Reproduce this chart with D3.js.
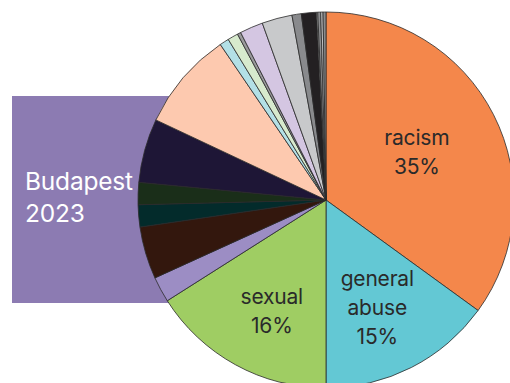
<!DOCTYPE html>
<html>
<head>
<meta charset="utf-8">
<script src="https://cdn.jsdelivr.net/npm/d3@7"></script>
<style>
  html, body { margin: 0; padding: 0; background: #fff; }
  svg { display: block; }
</style>
</head>
<body>
<svg id="chart" width="510" height="383"></svg>
<script>
// Share of reported cases by category (percent), clockwise from 12 o'clock
const categories = [
  "racism", "general abuse", "sexual", "other 1", "other 2", "other 3", "other 4",
  "other 5", "other 6", "other 7", "other 8", "other 9", "other 10", "other 11",
  "other 12", "other 13", "other 14", "other 15", "other 16", "other 17"
];
const values = [
  35, 15, 16, 2.2, 4.5, 1.9, 1.9,
  5.5, 8.5, 0.8, 0.9, 0.3, 2.0, 2.6,
  0.8, 1.3, 0.1, 0.25, 0.2, 0.25
];
const colors = [
  "#f4874b", "#63c8d4", "#9fcd63", "#9c8dc4", "#33170d", "#032b2b", "#1a2e19",
  "#1e1636", "#fdc9af", "#b3e0e6", "#d7eacd", "#9a9a9c", "#d4c6e2", "#c8c9cb",
  "#898a8d", "#232022", "#efefef", "#8d8e90", "#c0c1c3", "#8a8b8d"
];
// Labelled slices: text lines per category
const labelLines = {
  "racism": ["racism", "35%"],
  "general abuse": ["general", "abuse", "15%"],
  "sexual": ["sexual", "16%"]
};
const titleLines = ["Budapest", "2023"];

const svg = d3.select("#chart");
const cx = 326, cy = 200, R = 188;

// Title panel sitting behind the pie
const panel = svg.append("g");
panel.append("rect")
  .attr("x", 12).attr("y", 96)
  .attr("width", cx - 12).attr("height", 207)
  .attr("fill", "#8c7bb2");
panel.append("text")
  .attr("x", 25).attr("y", 190)
  .attr("fill", "#ffffff")
  .attr("font-family", "Inter, 'Noto Sans', sans-serif")
  .attr("font-size", 24.5)
  .attr("letter-spacing", "-0.2")
  .selectAll("tspan").data(titleLines).join("tspan")
  .attr("x", 25)
  .attr("dy", (d, i) => i === 0 ? 0 : 31.5)
  .text(d => d);

const rows = categories.map((c, i) => ({ key: c, value: values[i], color: colors[i] }));

const pie = d3.pie().sort(null).value(d => d.value).startAngle(0).endAngle(2 * Math.PI);
const arcs = pie(rows);
const arc = d3.arc().innerRadius(0).outerRadius(R);

const g = svg.append("g").attr("transform", `translate(${cx},${cy})`);

g.selectAll("path.slice").data(arcs).join("path")
  .attr("class", "slice")
  .attr("d", arc)
  .attr("fill", d => d.data.color)
  .attr("stroke", "#2b2b2b")
  .attr("stroke-width", 0.8)
  .attr("stroke-linejoin", "round");

// Label placement: radius factor and small angular nudge (degrees)
const labelPlace = {
  "racism": { r: 0.54, shift: 0.5 },
  "general abuse": { r: 0.645, shift: 2 },
  "sexual": { r: 0.67, shift: -3.3 }
};
const lineGap = 28.8;

arcs.filter(d => labelLines[d.data.key]).forEach(d => {
  const p = labelPlace[d.data.key];
  const a = (d.startAngle + d.endAngle) / 2 + p.shift * Math.PI / 180;
  const x = Math.sin(a) * R * p.r;
  const y = -Math.cos(a) * R * p.r;
  const lines = labelLines[d.data.key];
  const t = g.append("text")
    .attr("text-anchor", "middle")
    .attr("fill", "#2a2a2a")
    .attr("font-family", "Inter, 'Noto Sans', sans-serif")
    .attr("font-size", 21)
    .attr("letter-spacing", "-0.2");
  lines.forEach((s, i) => {
    t.append("tspan")
      .attr("x", x)
      .attr("y", y + (i - (lines.length - 1) / 2) * lineGap + 5)
      .text(s);
  });
});
</script>
</body>
</html>
